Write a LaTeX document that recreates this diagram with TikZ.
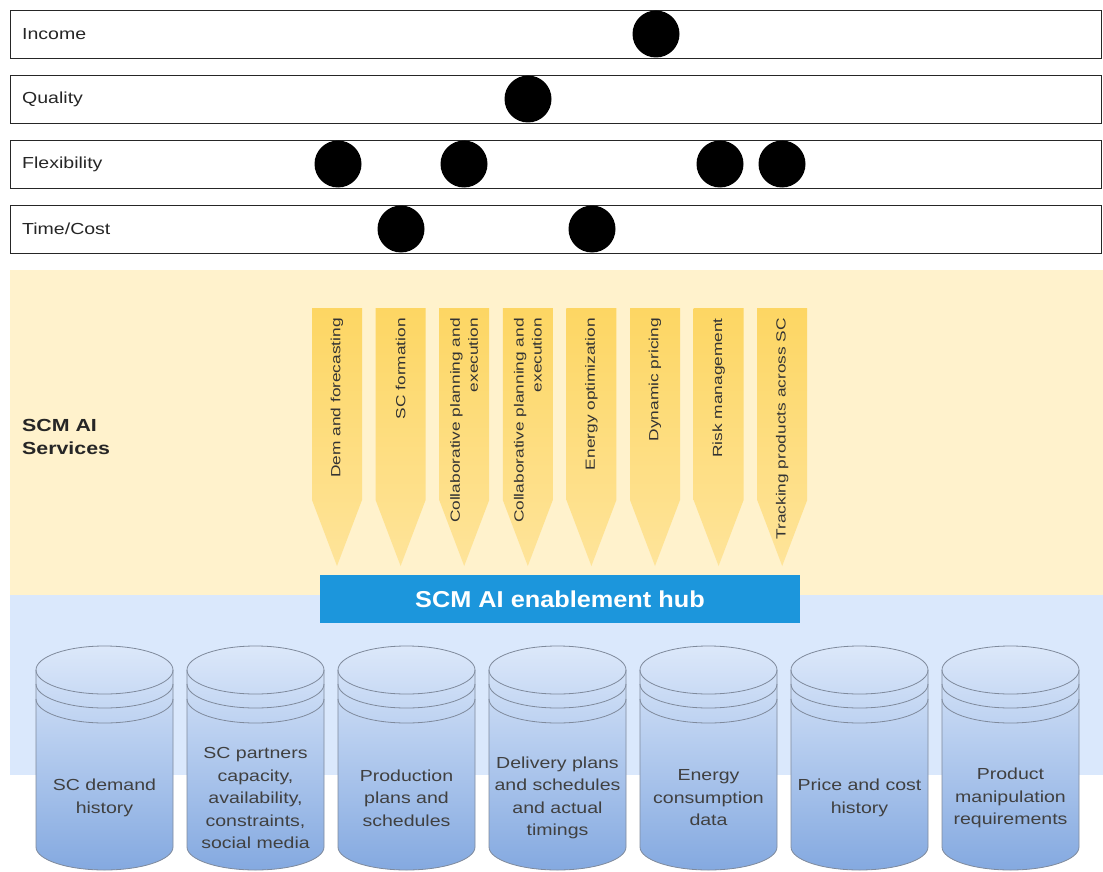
\documentclass[tikz,border=0pt]{standalone}
\usepackage{fontspec}
\setmainfont{Liberation Sans}
\newfontfamily\labf[FakeStretch=1.22]{Liberation Sans}
\newfontfamily\rotf[FakeStretch=1.3]{Liberation Sans}
\newfontfamily\hubf[FakeStretch=1.1]{Liberation Sans}
\definecolor{yband}{HTML}{FFF2CC}
\definecolor{bband}{HTML}{DAE8FC}
\definecolor{arrtop}{HTML}{FDD663}
\definecolor{arrbot}{HTML}{FEE49A}
\definecolor{hubblue}{HTML}{1C96DC}
\definecolor{cyltop}{HTML}{DCE8FA}
\definecolor{cylbot}{HTML}{84A9E0}
\definecolor{cylline}{HTML}{7F8A9C}
\begin{document}
\begin{tikzpicture}[x=1pt,y=-1pt,
  bar/.style={draw=black!85, line width=1.4pt, minimum width=1091pt, minimum height=48pt, inner sep=0, anchor=north west},
  barlabel/.style={anchor=west, inner sep=0, font=\labf\fontsize{16}{19}\selectfont, text=black!85},
  dot/.style={circle, fill=black, minimum size=47pt, inner sep=0},
  svc/.style={rotate=90, anchor=east, align=right, inner sep=0, font=\rotf\fontsize{13.3}{18}\selectfont, text=black!80},
  cyltext/.style={align=center, inner sep=0, font=\labf\fontsize{16}{22.5}\selectfont, text=black!75},
  cyl/.style={draw=cylline, line width=0.8pt, top color=cyltop, bottom color=cylbot},
  ring/.style={draw=cylline, line width=0.8pt}
]
\useasboundingbox (0,0) rectangle (1103,872);
% top bars
\node[bar] (income) at (10,10) {};
\node[bar] (quality) at (10,75) {};
\node[bar] (flex) at (10,140) {};
\node[bar] (time) at (10,205) {};
\node[barlabel] (lincome) at (22,34) {Income};
\node[barlabel] (lquality) at (22,99) {Quality};
\node[barlabel] (lflex) at (22,164) {Flexibility};
\node[barlabel] (ltime) at (22,229) {Time/Cost};
\node[dot] (d1) at (656,34) {};
\node[dot] (d2) at (528,99) {};
\node[dot] (d3) at (338,164) {};
\node[dot] (d4) at (464,164) {};
\node[dot] (d5) at (720,164) {};
\node[dot] (d6) at (782,164) {};
\node[dot] (d7) at (401,229) {};
\node[dot] (d8) at (592,229) {};
% bands
\fill[yband] (10,270) rectangle (1103,595);
\fill[bband] (10,595) rectangle (1103,775);
\node[anchor=west, align=left, inner sep=0, font=\labf\bfseries\fontsize{17.5}{23}\selectfont, text=black!85] (svclabel) at (22,437) {SCM AI\\Services};
% service arrows
\foreach \t [count=\k] in {{Dem and forecasting},{SC formation},{Collaborative planning and\\execution},{Collaborative planning and\\execution},{Energy optimization},{Dynamic pricing},{Risk management},{Tracking products across SC}} {
  \pgfmathsetmacro\xa{312+63.6*(\k-1)}
  \pgfmathsetmacro\xb{\xa+50}
  \pgfmathsetmacro\xc{\xa+25}
  \shade[top color=arrtop, bottom color=arrbot] (\xa,308) -- (\xb,308) -- (\xb,500) -- (\xc,566) -- (\xa,500) -- cycle;
  \node[svc] (s\k) at (\xc,318) {\t};
}
% hub
\node[fill=hubblue, minimum width=480pt, minimum height=48pt, inner sep=0, text=white, font=\hubf\bfseries\fontsize{23}{26}\selectfont] (hub) at (560,599) {SCM AI enablement hub};
% cylinders
\foreach \t [count=\k] in {{SC demand\\history},{SC partners\\capacity,\\availability,\\constraints,\\social media},{Production\\plans and\\schedules},{Delivery plans\\and schedules\\and actual\\timings},{Energy\\consumption\\data},{Price and cost\\history},{Product\\manipulation\\requirements}} {
  \pgfmathsetmacro\xa{36+151*(\k-1)}
  \pgfmathsetmacro\xb{\xa+137}
  \pgfmathsetmacro\xc{\xa+68.5}
  \path[cyl] (\xa,670) -- (\xa,847) arc[start angle=180, end angle=0, x radius=68.5, y radius=23] -- (\xb,670) arc[start angle=0, end angle=-180, x radius=68.5, y radius=24] -- cycle;
  \draw[ring] (\xa,670) arc[start angle=180, end angle=0, x radius=68.5, y radius=24];
  \draw[ring] (\xa,684) arc[start angle=180, end angle=0, x radius=68.5, y radius=24];
  \draw[ring] (\xa,699) arc[start angle=180, end angle=0, x radius=68.5, y radius=24];
  \node[cyltext] (c\k) at (\xc,798) {\t};
}
\end{tikzpicture}
\end{document}
